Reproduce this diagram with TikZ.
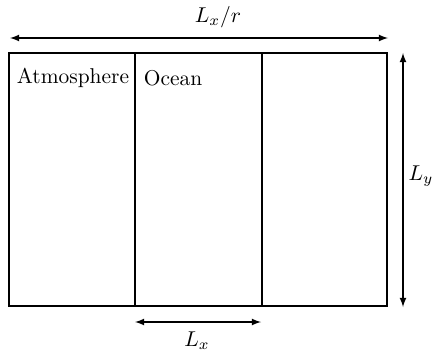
\documentclass[tikz,border=0pt]{standalone}
\usepackage{amsmath}
\usepackage{amssymb}

\begin{document}
\begin{tikzpicture}[x=0.0164cm,y=-0.0164cm,>=latex,line width=0.5pt]
  \useasboundingbox (0,0) rectangle (434,353);

  % domain with the three strips
  \coordinate (nw) at (9,53);
  \coordinate (se) at (387,306);
  \draw (nw) rectangle (se);
  \coordinate (d1t) at (135,53);
  \coordinate (d1b) at (135,306);
  \coordinate (d2t) at (262,53);
  \coordinate (d2b) at (262,306);
  \draw (d1t) -- (d1b);
  \draw (d2t) -- (d2b);

  \node (atm) at (73,78) {Atmosphere};
  \node (ocn) at (173,78) {Ocean};

  % sizes
  \coordinate (tl) at (10,38);
  \coordinate (tr) at (388,38);
  \draw[<->] (tl) -- (tr);
  \node (lxr) at (218,17) {$L_x/r$};

  \coordinate (rt) at (403,53);
  \coordinate (rb) at (403,307);
  \draw[<->] (rt) -- (rb);
  \node (ly) at (421,176) {$L_y$};

  \coordinate (bl) at (135,322);
  \coordinate (br) at (261,322);
  \draw[<->] (bl) -- (br);
  \node (lx) at (197,341) {$L_x$};
\end{tikzpicture}
\end{document}
